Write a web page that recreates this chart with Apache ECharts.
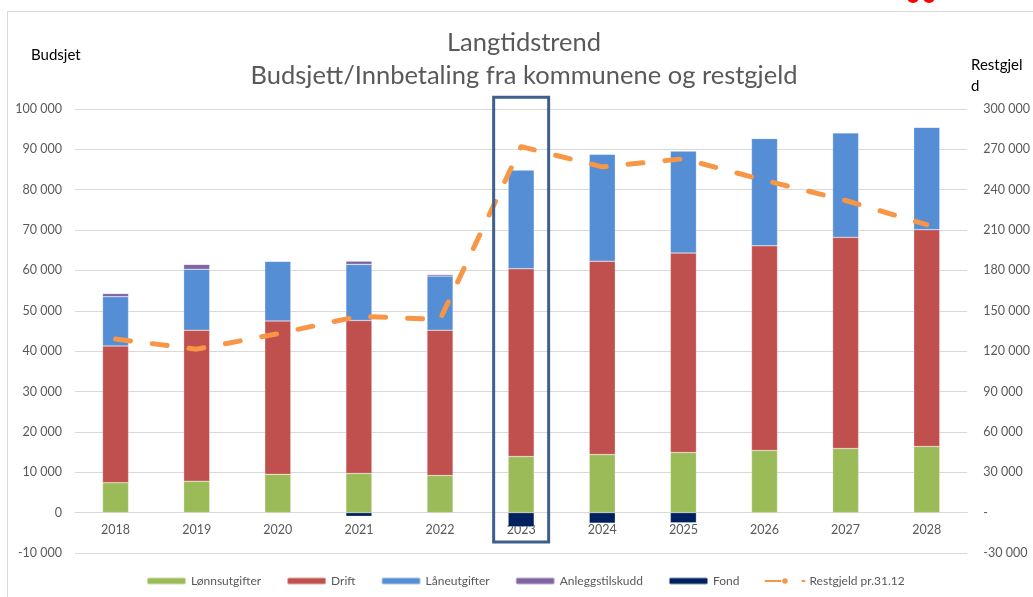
<!doctype html>
<html>
    <head>
        <meta charset="utf-8">
        <title>Langtidstrend</title>
        <style>
            html, body { margin: 0; padding: 0; background: #fff; }
            #main { width: 1033px; height: 597px; }
        </style>
    </head>
    <body>
        <div id="main"></div>
        <script src="https://cdn.jsdelivr.net/npm/echarts@6/dist/echarts.min.js"></script>
        <script>
            // data
            var years = ['2018', '2019', '2020', '2021', '2022', '2023', '2024', '2025', '2026', '2027', '2028'];
            var lonn = [7400, 7800, 9500, 9700, 9200, 13900, 14400, 14900, 15400, 15900, 16400];
            var drift = [33900, 37400, 38000, 37900, 36000, 46500, 47900, 49400, 50700, 52300, 53700];
            var laan = [12200, 15100, 14800, 13900, 13400, 24500, 26500, 25300, 26600, 25900, 25400];
            var anlegg = [800, 1200, 0, 800, 400, 0, 0, 0, 0, 0, 0];
            var fond = [0, 0, 0, -900, 0, -3500, -2600, -2500, 0, 0, 0];
            var restgjeld = [129000, 121500, 133000, 146000, 143500, 272000, 257000, 263000, 247000, 232000, 214000];

            var highlightYear = '2023';

            var font = 'Lato, "Open Sans", sans-serif';
            var grey = '#595959';

            function fmt(v) {
                var s = String(Math.abs(v)).replace(/\B(?=(\d{3})+(?!\d))/g, ' ');
                return (v < 0 ? '-' : '') + s;
            }

            var chart = echarts.init(document.getElementById('main'), null, {
                devicePixelRatio: 1
            });

            function barSeries(name, data, color) {
                return {
                    name: name,
                    type: 'bar',
                    stack: 'budsjett',
                    barWidth: 26,
                    itemStyle: {
                        color: color,
                        borderColor: 'rgba(255,255,255,0.5)',
                        borderWidth: 0.5
                    },
                    data: data
                };
            }

            chart.setOption({
                backgroundColor: '#fff',
                animation: false,
                textStyle: { fontFamily: font },
                title: [{
                    text: 'Langtidstrend\nBudsjett/Innbetaling fra kommunene og restgjeld',
                    left: 519,
                    top: 21,
                    textAlign: 'center',
                    textStyle: {
                        fontFamily: font,
                        fontSize: 25.5,
                        fontWeight: 'normal',
                        color: grey,
                        lineHeight: 33
                    }
                }, {
                    text: 'Budsjet',
                    left: 26,
                    top: 43,
                    textStyle: { fontFamily: font, fontSize: 15, fontWeight: 'normal', color: '#000' }
                }, {
                    text: 'Restgjel\nd',
                    left: 966,
                    top: 50,
                    textStyle: { fontFamily: font, fontSize: 15, fontWeight: 'normal', color: '#000', lineHeight: 21 }
                }],
                legend: {
                    bottom: 5,
                    left: 141,
                    itemWidth: 39,
                    itemHeight: 7,
                    itemGap: 25,
                    textStyle: { fontFamily: font, fontSize: 12, color: grey },
                    data: ['Lønnsutgifter', 'Drift', 'Låneutgifter', 'Anleggstilskudd', 'Fond', 'Restgjeld pr.31.12']
                },
                grid: {
                    left: 75,
                    right: 63,
                    top: 109,
                    bottom: 44,
                    containLabel: false
                },
                xAxis: {
                    type: 'category',
                    data: years,
                    axisLine: { onZero: false, lineStyle: { color: '#d9d9d9' } },
                    axisTick: { show: false },
                    axisLabel: { color: grey, fontSize: 12.5, margin: 11 }
                },
                yAxis: [{
                    type: 'value',
                    min: -10000,
                    max: 100000,
                    interval: 10000,
                    axisLine: { show: false },
                    axisTick: { show: false },
                    splitLine: { lineStyle: { color: '#d9d9d9' } },
                    axisLabel: {
                        color: grey,
                        fontSize: 12.5,
                        margin: 13,
                        formatter: function (v) { return fmt(v); }
                    }
                }, {
                    type: 'value',
                    position: 'right',
                    min: -30000,
                    max: 300000,
                    interval: 30000,
                    axisLine: { show: false },
                    axisTick: { show: false },
                    splitLine: { show: false },
                    axisLabel: {
                        color: grey,
                        fontSize: 12.5,
                        margin: 16,
                        formatter: function (v) { return v === 0 ? '-' : fmt(v); }
                    }
                }],
                series: [
                    barSeries('Lønnsutgifter', lonn, '#9BBB59'),
                    barSeries('Drift', drift, '#C0504D'),
                    barSeries('Låneutgifter', laan, '#558ED5'),
                    barSeries('Anleggstilskudd', anlegg, '#8064A2'),
                    barSeries('Fond', fond, '#002060'),
                    {
                        name: 'Restgjeld pr.31.12',
                        type: 'line',
                        yAxisIndex: 1,
                        symbol: 'none',
                        z: 5,
                        itemStyle: { color: '#F79646' },
                        lineStyle: {
                            color: '#F79646',
                            width: 5,
                            type: [15, 22],
                            cap: 'round',
                            join: 'round'
                        },
                        data: restgjeld
                    }
                ]
            });

            // move the category axis up to the zero line of the left axis
            var yAxis0 = chart.getModel().getComponent('yAxis', 0).axis;
            var zeroY = chart.convertToPixel({ yAxisIndex: 0 }, 0);
            var bottomY = chart.convertToPixel({ yAxisIndex: 0 }, yAxis0.scale.getExtent()[0]);

            // box round the highlighted year and the outer chart frame
            var p1 = chart.convertToPixel({ xAxisIndex: 0, yAxisIndex: 0 }, [highlightYear, 102900]);
            var p2 = chart.convertToPixel({ xAxisIndex: 0, yAxisIndex: 0 }, [highlightYear, -7300]);
            var boxW = 55;
            chart.setOption({
                xAxis: { offset: zeroY - bottomY },
                graphic: [{
                    type: 'rect',
                    shape: { x: p1[0] - boxW / 2, y: p1[1], width: boxW, height: p2[1] - p1[1] },
                    style: { fill: 'none', stroke: '#3F5F8E', lineWidth: 3 },
                    z: 10
                }, {
                    type: 'rect',
                    shape: { x: 7.5, y: 11.5, width: 1040, height: 600 },
                    style: { fill: 'none', stroke: '#d9d9d9', lineWidth: 1 },
                    silent: true
                }, {
                    type: 'circle',
                    shape: { cx: 913, cy: -3, r: 6 },
                    style: { fill: '#ff0000' }
                }, {
                    type: 'circle',
                    shape: { cx: 929, cy: -3, r: 6 },
                    style: { fill: '#ff0000' }
                }]
            });

            window.onresize = chart.resize;
        </script>
    </body>
</html>
